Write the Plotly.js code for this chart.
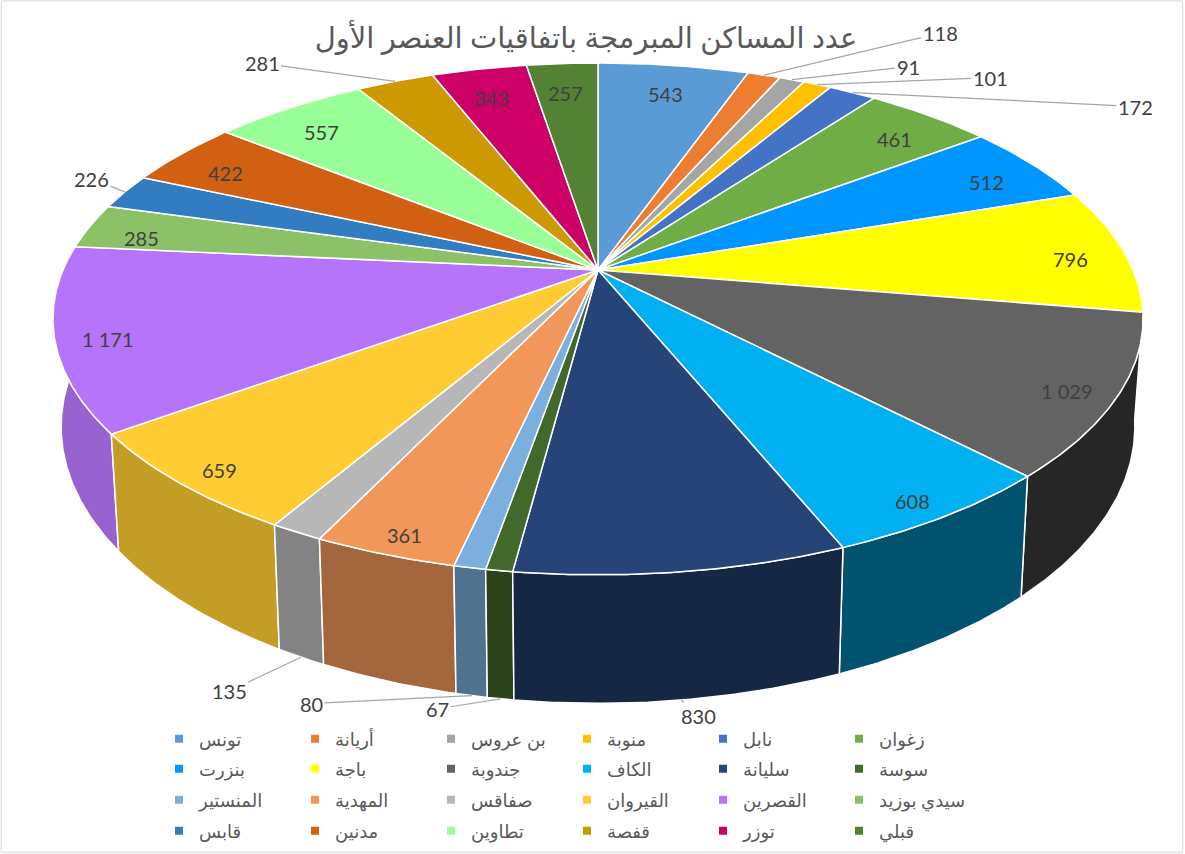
<!DOCTYPE html>
<html><head><meta charset="utf-8">
<script src="https://cdn.plot.ly/plotly-3.0.1.min.js"></script>
<style>html,body{margin:0;padding:0;background:#fff;}</style>
</head><body>
<div id="chart" style="width:1185px;height:854px;"></div>
<script>
// ---- data ----
const regions = ["تونس","أريانة","بن عروس","منوبة","نابل","زغوان","بنزرت","باجة","جندوبة","الكاف","سليانة","سوسة","المنستير","المهدية","صفاقس","القيروان","القصرين","سيدي بوزيد","قابس","مدنين","تطاوين","قفصة","توزر","قبلي"];
const values = [543,118,91,101,172,461,512,796,1029,608,830,67,80,361,135,659,1171,285,226,422,557,281,343,257];
const colors = ["#5B9BD5","#ED7D31","#A5A5A5","#FFC000","#4472C4","#70AD47","#0096FF","#FFFF00","#636363","#00B0F0","#264478","#43682B","#7CAFDD","#F1975A","#B7B7B7","#FFCD33","#B574F9","#8CC168","#327DC2","#D26012","#99FF99","#CC9900","#CC0066","#548235"];
const titleText = "عدد المساكن المبرمجة باتفاقيات العنصر الأول";

// ---- styling / geometry of the 3D pie (not data) ----
const FONT = "Lato, 'DejaVu Sans', sans-serif";
const CX = 598, CY = 270, A = 535, B = 246.6, K = 0.191, T = 104, BX = 0.985;
// outside labels: offsets (pixels) of text from its anchor point on the pie edge
const outside = {1:[176,-42],2:[116,-13],3:[173,-7],4:[283,14],10:[17,16],11:[-63,10],12:[-160,8],14:[-72,34],18:[-33,-13],21:[-133,-18]};

function proj(thDeg, r){
  const t = thDeg*Math.PI/180;
  const X = r*Math.sin(t), Z = r*Math.cos(t), d = 1 + K*Z;
  return {x: CX + A*X/d, y: CY - B*Z/d, Z: Z, d: d};
}
function bottomPt(thDeg){
  const p = proj(thDeg,1);
  return {x: CX + (p.x-CX)*BX, y: p.y + T/p.d};
}
function shade(hex, f){
  const n = parseInt(hex.slice(1),16);
  const r = Math.round(((n>>16)&255)*f), g = Math.round(((n>>8)&255)*f), b = Math.round((n&255)*f);
  return 'rgb('+r+','+g+','+b+')';
}
function fmt(v){ return String(v).replace(/\B(?=(\d{3})+(?!\d))/g,' '); }
function arc(a1,a2){ const n = Math.max(2, Math.ceil((a2-a1)/0.5)); const out=[]; for(let i=0;i<=n;i++) out.push(a1+(a2-a1)*i/n); return out; }

const total = values.reduce((s,v)=>s+v,0);
const starts = [], ends = [];
let acc = 0;
values.forEach(v=>{ starts.push(acc/total*360); acc += v; ends.push(acc/total*360); });

const traces = [];
// rims (side walls), drawn back to front
const order = values.map((v,i)=>i);
order.sort((i,j)=>{ const zi=Math.cos((starts[i]+ends[i])/360*Math.PI), zj=Math.cos((starts[j]+ends[j])/360*Math.PI); return zj-zi; });
order.forEach(i=>{
  const angs = arc(starts[i], ends[i]);
  const xs=[], ys=[];
  angs.forEach(a=>{ const p=proj(a,1); xs.push(p.x); ys.push(p.y); });
  angs.slice().reverse().forEach(a=>{ const p=bottomPt(a); xs.push(p.x); ys.push(p.y); });
  xs.push(xs[0]); ys.push(ys[0]);
  const mid = (starts[i]+ends[i])/2*Math.PI/180;
  const f = 0.6 - 0.25*Math.sin(mid);
  traces.push({type:'scatter', x:xs, y:ys, mode:'lines', fill:'toself', fillcolor:shade(colors[i],f),
    line:{color:'#ffffff', width:1.5}, hoverinfo:'skip', showlegend:false});
});
// top faces
values.forEach((v,i)=>{
  const xs=[CX], ys=[CY];
  arc(starts[i], ends[i]).forEach(a=>{ const p=proj(a,1); xs.push(p.x); ys.push(p.y); });
  xs.push(CX); ys.push(CY);
  traces.push({type:'scatter', x:xs, y:ys, mode:'lines', fill:'toself', fillcolor:colors[i],
    line:{color:'#ffffff', width:1.5}, name:regions[i], text:fmt(v), hoverinfo:'name+text', showlegend:false});
});
// legend entries (4 rows of 6)
const legendIds = ['legend','legend2','legend3','legend4'];
regions.forEach((r,i)=>{
  traces.push({type:'scatter', x:[null], y:[null], mode:'markers', name:r,
    marker:{symbol:'square', size:8, color:colors[i]}, legend: legendIds[Math.floor(i/6)], showlegend:true, hoverinfo:'skip'});
});

// labels
const annotations = [];
values.forEach((v,i)=>{
  const mid = (starts[i]+ends[i])/2;
  if (outside[i]) {
    const p = proj(mid,1);
    const anchor = (p.Z < 0) ? bottomPt(mid) : p;
    annotations.push({x:anchor.x, y:anchor.y, xref:'x', yref:'y', text:fmt(v), showarrow:true, arrowhead:0,
      arrowwidth:1.2, arrowcolor:'#a6a6a6', ax:outside[i][0], ay:outside[i][1], standoff:0,
      font:{family:FONT, size:20, color:'#404040'}});
  } else {
    const zMid = Math.cos(mid*Math.PI/180);
    const p = proj(mid, 0.9 - 0.025*zMid);
    annotations.push({x:p.x, y:p.y, xref:'x', yref:'y', yshift:-7, text:fmt(v), showarrow:false,
      font:{family:FONT, size:20, color:'#404040'}});
  }
});

const rowsY = [739, 769, 800, 831];
const layout = {
  width:1185, height:854, autosize:false,
  margin:{l:0,r:0,t:0,b:0}, paper_bgcolor:'#ffffff', plot_bgcolor:'rgba(0,0,0,0)',
  title:{text:titleText, x:586/1185, xanchor:'center', y:1-38/854, yanchor:'middle', yref:'container',
    font:{family:FONT, size:29, color:'#595959'}},
  xaxis:{range:[0,1185], visible:false, fixedrange:true},
  yaxis:{range:[854,0], visible:false, fixedrange:true},
  annotations: annotations,
  shapes:[{type:'rect', xref:'paper', yref:'paper', x0:0.001, x1:0.998, y0:0.002, y1:0.999, line:{color:'#d9d9d9', width:1}}],
  hovermode:'closest'
};
legendIds.forEach((id,k)=>{
  layout[id] = {orientation:'h', x:(179-20)/1185, xanchor:'left', y:1-rowsY[k]/854, yanchor:'middle',
    entrywidth:91, entrywidthmode:'pixels', bgcolor:'rgba(0,0,0,0)', borderwidth:0,
    font:{family:FONT, size:18, color:'#595959'}, itemclick:false, itemdoubleclick:false};
});
Plotly.newPlot('chart', traces, layout, {displayModeBar:false});
</script>
</body></html>
